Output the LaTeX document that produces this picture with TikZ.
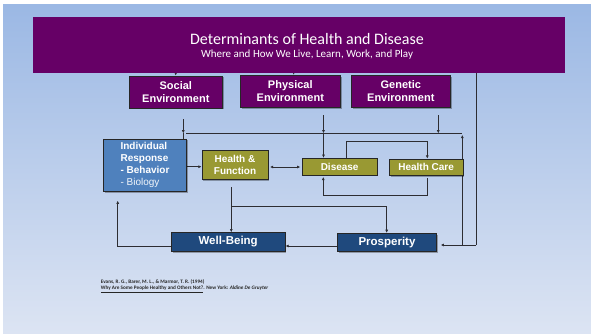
\documentclass[tikz,border=0pt]{standalone}
\usepackage{fontspec}
\setmainfont{Liberation Sans}
\newfontfamily\calibri{Carlito}
\usetikzlibrary{arrows.meta,shadows}
\pgfdeclarelayer{back}
\pgfdeclarelayer{lines}
\pgfsetlayers{back,lines,main}
\definecolor{bgtop}{RGB}{155,184,228}
\definecolor{bgbot}{RGB}{220,228,243}
\definecolor{plum}{RGB}{102,0,102}
\definecolor{olive}{RGB}{153,153,51}
\definecolor{steel}{RGB}{79,129,189}
\definecolor{navy}{RGB}{31,73,125}
\definecolor{lin}{RGB}{45,45,50}
\begin{document}
\begin{tikzpicture}[x=1pt,y=-1pt,
  box/.style={rectangle,draw=black!85,line width=0.9pt,inner sep=0pt,text=white,align=center,
    drop shadow={shadow xshift=1.2pt,shadow yshift=-1.2pt,opacity=0.3,fill=black}},
  envbox/.style={box,fill=plum,font=\fontsize{11}{13}\selectfont\bfseries},
  olbox/.style={box,fill=olive,font=\fontsize{10}{12}\selectfont\bfseries},
  nvbox/.style={box,fill=navy,font=\fontsize{11.5}{13}\selectfont\bfseries},
  citetext/.style={anchor=base west,inner sep=0pt,font=\calibri\fontsize{5.2}{6}\selectfont\bfseries,text=black!85},
  conn/.style={draw=lin,line width=0.8pt},
  arr/.style={conn,-{Latex[length=3.2pt,width=3pt]}},
  darr/.style={conn,{Latex[length=3.2pt,width=3pt]}-{Latex[length=3.2pt,width=3pt]}}]
\useasboundingbox (0,0) rectangle (591,335);
\begin{pgfonlayer}{back}
\fill[white] (0,0) rectangle (591,335);
\shade[top color=bgtop,bottom color=bgbot] (3,4) rectangle (591,333);
\end{pgfonlayer}
% banner
\node[rectangle,fill=plum,minimum width=532pt,minimum height=56pt,inner sep=0pt] (banner) at (299,44.7) {};
\node[anchor=base,text=white,font=\calibri\fontsize{16}{19}\selectfont] (title) at (307,44.3) {Determinants of Health and Disease};
\node[anchor=base,text=white,font=\calibri\fontsize{11}{12}\selectfont] (subtitle) at (307,57.3) {Where and How We Live, Learn, Work, and Play};
% environment boxes
\node[envbox,minimum width=93.7pt,minimum height=32pt] (social) at (175.85,92) {Social\\Environment};
\node[envbox,minimum width=100pt,minimum height=32pt] (physical) at (290.3,91.3) {Physical\\Environment};
\node[envbox,minimum width=99pt,minimum height=32pt] (genetic) at (400.8,91.3) {Genetic\\Environment};
% middle row
\node[box,fill=steel,minimum width=83.4pt,minimum height=52.3pt,align=left,font=\fontsize{10}{12}\selectfont\bfseries] (indiv) at (145,165.15) {Individual\\Response\\- Behavior\\{\mdseries\color{white!92!steel}- Biology}};
\node[olbox,minimum width=66pt,minimum height=28.6pt] (hf) at (235,165) {Health \&\\Function};
\node[olbox,minimum width=74.7pt,minimum height=16.7pt] (disease) at (339.65,166.65) {Disease};
\node[olbox,minimum width=73.7pt,minimum height=16.7pt] (hcare) at (426.15,167.35) {Health Care};
% bottom row
\node[nvbox,minimum width=113.7pt,minimum height=18.6pt] (well) at (228.15,242) {Well-Being};
\node[nvbox,minimum width=99.4pt,minimum height=18.4pt] (prosp) at (387,242.5) {Prosperity};
% citation
\node[citetext] (cite1) at (100.7,283.5) {Evans, R. G., Barer, M. L., \& Marmor, T. R. (1994)};
\node[citetext] (cite2) at (100.7,289.8) {\underline{Why Are Some People Healthy and Others Not?}. New York: \textit{Aldine De Gruyter}};
% coordinates
\coordinate (bL) at (175.7,62.3);
\coordinate (bP) at (293.7,62.3);
\coordinate (bR) at (476,62.3);
\coordinate (bRd) at (476,245);
\coordinate (pIn) at (440.7,245);
\coordinate (sTop) at (183.3,119);
\coordinate (sMid) at (183.3,133.3);
\coordinate (sLow) at (183.3,143.3);
\coordinate (sEnd) at (174,143.3);
\coordinate (pTop) at (323.5,115);
\coordinate (pMid) at (323.5,133.3);
\coordinate (gTop) at (438.3,115);
\coordinate (gMid) at (438.3,133.3);
\coordinate (hL) at (186,133.3);
\coordinate (hR) at (462.3,133.3);
\coordinate (vB) at (462.3,245);
\coordinate (lpA) at (346,141.7);
\coordinate (lpB) at (427.3,141.7);
\coordinate (lqA) at (427.3,178);
\coordinate (lqB) at (427.3,195);
\coordinate (lqC) at (323.3,195);
\coordinate (iOut) at (172.7,166.7);
\coordinate (fTop) at (231.3,187.3);
\coordinate (fMid) at (231.3,206.7);
\coordinate (fR) at (386.7,206.7);
\coordinate (wL) at (117.7,246);
\coordinate (wUp) at (117.7,200.7);
\begin{pgfonlayer}{lines}
\draw[conn] (bL) -- (bR) -- (bRd);
\draw[arr] (bRd) -- (pIn);
\draw[arr] (bL) -- (social.north -| bL);
\draw[arr] (bP) -- (physical.north -| bP);
\draw[arr] (sTop) -- (sMid);
\draw[arr] (sMid) -- (sLow) -- (sEnd);
\draw[arr] (pTop) -- (pMid);
\draw[arr] (pMid) -- (disease.north -| pMid);
\draw[arr] (gTop) -- (gMid);
\draw[conn] (hL) -- (hR);
\draw[arr] (vB) -- ([yshift=-1.5pt]hR);
\draw[arr] (disease.north -| lpA) -- (lpA) -- (lpB) -- (hcare.north -| lpB);
\draw[arr] (lqA) -- (lqB) -- (lqC) -- ([yshift=-1.5pt]disease.south -| lqC);
\draw[darr] ([xshift=1.5pt]hf.east |- 0,167) -- ([xshift=-1.5pt]disease.west |- 0,167);
\draw[arr] (iOut) -- (hf.west |- iOut);
\draw[arr] (fTop) -- (well.north -| fTop);
\draw[conn] (fMid) -- (fR);
\draw[arr] (fR) -- (prosp.north -| fR);
\draw[arr] (prosp.west |- 0,246) -- (well.east |- 0,246);
\draw[arr] (well.west |- wL) -- (wL) -- (wUp);
\end{pgfonlayer}
\end{tikzpicture}
\end{document}
